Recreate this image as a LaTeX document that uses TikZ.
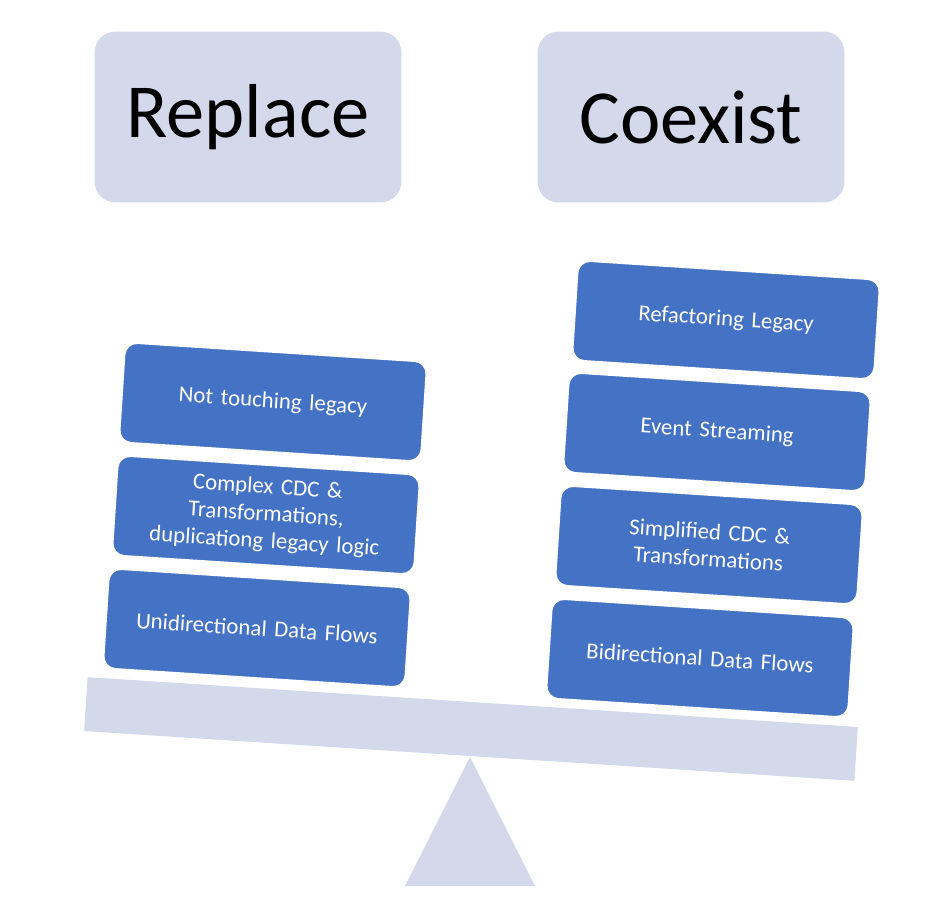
\documentclass[tikz,border=0pt]{standalone}
\usepackage{fontspec}
\setmainfont{Carlito}
\definecolor{lav}{HTML}{D3D8EA}
\definecolor{blu}{HTML}{4472C4}
\begin{document}
\begin{tikzpicture}[x=0.02cm,y=-0.02cm,
	title/.style={fill=lav, rounded corners=12pt, minimum width=6.14cm, minimum height=3.42cm, font=\fontsize{43.5}{48}\selectfont},
	item/.style={fill=blu, draw=white, line width=1pt, rounded corners=7pt, text=white, minimum width=6.05cm, minimum height=2cm, text width=5cm, align=center, rotate=-3.7, font=\fontsize{13}{15.5}\selectfont},
	beam/.style={fill=lav, minimum width=15.44cm, minimum height=1.08cm, rotate=-3.7, inner sep=0pt}
	]
	\useasboundingbox (0,0) rectangle (932,917);
	
	\node[title] (replace) at (248,117) {Replace};
	\node[title] (coexist) at (691,117) {Coexist};
	
	\node[beam] (beam) at (471,729) {};
	\fill[lav] (470,757) -- (535,886) -- (405,886) -- cycle;
	
	\node[item] (uni) at (257,628) {Unidirectional Data Flows};
	\node[item] (cdc) at (266,515) {Complex CDC \&\\Transformations,\\duplicationg legacy logic};
	\node[item] (touch) at (273,402) {Not touching legacy};
	
	\node[item] (bi) at (700,658) {Bidirectional Data Flows};
	\node[item] (simple) at (709,545) {Simplified CDC \&\\Transformations};
	\node[item] (event) at (717,432) {Event Streaming};
	\node[item] (refactor) at (726,320) {Refactoring Legacy};
\end{tikzpicture}
\end{document}
